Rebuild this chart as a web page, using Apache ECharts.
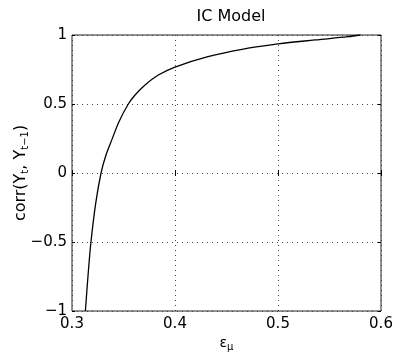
<!DOCTYPE html>
<html><head><meta charset="utf-8">
<script src="https://cdn.jsdelivr.net/npm/echarts@6/dist/echarts.min.js"></script>
<style>html,body{margin:0;padding:0;background:#fff}#c{width:401px;height:354px}</style>
</head><body><div id="c"></div>
<script>
const titleText = 'IC Model';
const xTicks = [0.3, 0.4, 0.5, 0.6];
const yTicks = [-1, -0.5, 0, 0.5, 1];
const epsMu = [0.3130, 0.3155, 0.3184, 0.3230, 0.3282, 0.3330, 0.3392, 0.3456, 0.3547, 0.3612, 0.3709, 0.3838, 0.4000, 0.4320, 0.4650, 0.5000, 0.5360, 0.5680, 0.5800];
const corr  = [-1.0, -0.75, -0.5, -0.22, 0.0, 0.13, 0.251, 0.372, 0.5, 0.565, 0.638, 0.71, 0.768, 0.843, 0.896, 0.935, 0.964, 0.988, 1.0];

const chart = echarts.init(document.getElementById('c'));
const font = 'DejaVu Sans, Liberation Sans, Arial, sans-serif';
const data = epsMu.map((x, i) => [x, corr[i]]);
const gridLine = { show: true, lineStyle: { type: [1, 4], color: '#444', width: 1 } };
chart.setOption({
  animation: false,
  title: { text: titleText, left: 226, top: 4, textAlign: 'center',
    textStyle: { fontFamily: font, fontSize: 16, fontWeight: 'normal', color: '#000' } },
  grid: { left: 72, right: 20, top: 35, bottom: 43, show: true, borderColor: '#222', borderWidth: 1,
    containLabel: false, outerBoundsMode: 'none' },
  xAxis: [{
    type: 'value', min: 0.3, max: 0.6, interval: 0.1,
    axisLine: { show: false },
    axisTick: { inside: true, length: 3, lineStyle: { color: '#000' } },
    axisLabel: { fontFamily: font, fontSize: 15, color: '#000', margin: 6,
      formatter: v => xTicks.includes(+v.toFixed(2)) ? String(+v.toFixed(1)) : '' },
    splitLine: gridLine,
    name: '{m|ε}{s|μ}', nameLocation: 'middle', nameGap: 24, nameMoveOverlap: false,
    nameTextStyle: { rich: { m: { fontFamily: font, fontSize: 14, color: '#000' }, s: { fontFamily: font, fontSize: 10, color: '#000', padding: [7, 0, 0, 0] } } }
  }, {
    type: 'value', min: 0.3, max: 0.6, interval: 0.1, position: 'top',
    axisLine: { show: false }, axisLabel: { show: false }, splitLine: { show: false },
    axisTick: { inside: true, length: 3, lineStyle: { color: '#000' } }
  }],
  yAxis: [{
    type: 'value', min: -1, max: 1, interval: 0.5,
    axisLine: { show: false },
    axisTick: { inside: true, length: 3, lineStyle: { color: '#000' } },
    axisLabel: { fontFamily: font, fontSize: 15, color: '#000', margin: 5,
      formatter: v => (yTicks.includes(v) ? (v < 0 ? '\u2212' + Math.abs(v) : String(v)) : '') },
    splitLine: gridLine,
    name: 'corr(Y{s|t}, Y{s|t\u22121})', nameLocation: 'middle', nameGap: 42, nameRotate: 90, nameMoveOverlap: false,
    nameTextStyle: { fontFamily: font, fontSize: 16, color: '#000',
      rich: { s: { fontFamily: font, fontSize: 10, color: '#000', padding: [8, 0, 0, 0] } } }
  }, {
    type: 'value', min: -1, max: 1, interval: 0.5, position: 'right',
    axisLine: { show: false }, axisLabel: { show: false }, splitLine: { show: false },
    axisTick: { inside: true, length: 3, lineStyle: { color: '#000' } }
  }],
  series: [{
    type: 'line', data: data, smooth: 0.35, showSymbol: false,
    lineStyle: { color: '#000', width: 1.3 }, clip: true
  }]
});
</script></body></html>
